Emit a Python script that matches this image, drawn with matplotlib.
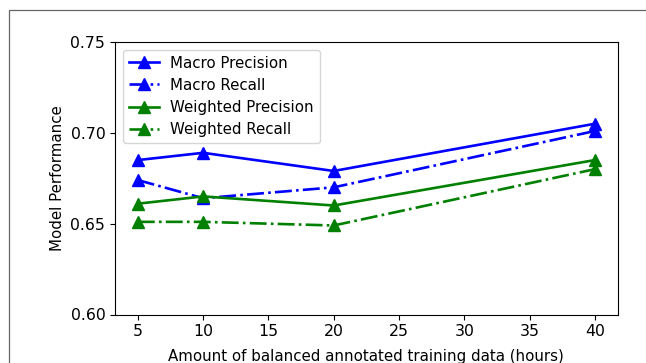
import matplotlib
matplotlib.use("Agg")
import matplotlib.pyplot as plt
from matplotlib.lines import Line2D

hours = [5, 10, 20, 40]
macro_precision = [0.685, 0.689, 0.679, 0.705]
macro_recall = [0.674, 0.664, 0.670, 0.701]
weighted_precision = [0.661, 0.665, 0.660, 0.685]
weighted_recall = [0.651, 0.651, 0.649, 0.680]
y_ticks = [0.60, 0.65, 0.70, 0.75]

fig = plt.figure(figsize=(6.46, 3.63), dpi=100)
ax = fig.add_axes([115 / 646, 1 - 314.5 / 363, (617.7 - 115) / 646, (314.5 - 42) / 363])

# rama wokol figury (przycieta)
fig.add_artist(Line2D([9 / 646, 9 / 646, 1.1], [-0.1, 1 - 10 / 363, 1 - 10 / 363],
                      transform=fig.transFigure, color="#666666", lw=0.9))

ax.plot(hours, macro_precision, 'b-', marker='^', markersize=9, lw=1.9, label="Macro Precision")
ax.plot(hours, macro_recall, 'b-.', marker='^', markersize=9, lw=1.9, label="Macro Recall")
ax.plot(hours, weighted_precision, 'g-', marker='^', markersize=9, lw=1.9, label="Weighted Precision")
ax.plot(hours, weighted_recall, 'g-.', marker='^', markersize=9, lw=1.9, label="Weighted Recall")

ax.set_ylim(0.60, 0.75)
ax.set_yticks(y_ticks)
ax.set_yticklabels([f"{v:.2f}" for v in y_ticks])
ax.tick_params(labelsize=11.3)

ax.set_xlabel("Amount of balanced annotated training data (hours)", fontsize=10.8, labelpad=7)
ax.set_ylabel("Model Performance", fontsize=10.8)

ax.legend(loc="upper left", fontsize=10.8, labelspacing=0.48)

fig.savefig("out.png", dpi=100)
